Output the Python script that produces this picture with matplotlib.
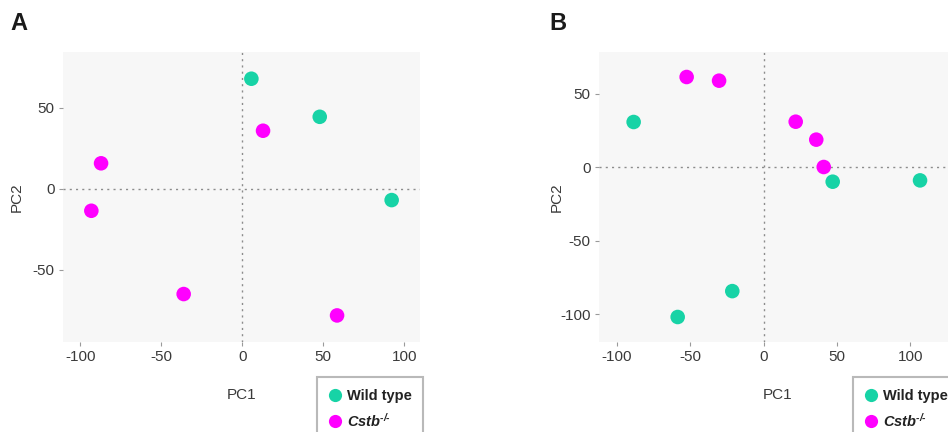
import matplotlib.pyplot as plt
from matplotlib.lines import Line2D

plt.rcParams['font.family'] = ['Liberation Sans', 'DejaVu Sans']
plt.rcParams['axes.unicode_minus'] = False
plt.rcParams['mathtext.fontset'] = 'custom'
plt.rcParams['mathtext.rm'] = 'Liberation Sans'
plt.rcParams['mathtext.bf'] = 'Liberation Sans:bold'
plt.rcParams['mathtext.bfit'] = 'Liberation Sans:italic:bold'
plt.rcParams['mathtext.it'] = 'Liberation Sans:italic'

# panel A
a_wt_pc1 = [5.6, 47.8, 92.2]
a_wt_pc2 = [67.9, 44.4, -7.0]
a_ko_pc1 = [12.8, -87.2, -93.2, -36.2, 58.5]
a_ko_pc2 = [35.8, 15.7, -13.6, -65.0, -78.2]

# panel B
b_wt_pc1 = [-88.6, -58.6, -21.4, 47.0, 106.5]
b_wt_pc2 = [30.8, -101.8, -84.2, -9.8, -8.9]
b_ko_pc1 = [-52.5, -30.4, 21.8, 35.8, 40.9]
b_ko_pc2 = [61.4, 58.9, 31.0, 18.8, 0.2]

wt_col = '#17d3a6'
ko_col = '#ff00ff'
labels = ['Wild type', '$\\mathbfit{Cstb}^{\\mathbfit{\u2010/\u2010}}$']

fig = plt.figure(figsize=(9.48, 4.32), dpi=100)

def panel(rect, wx, wy, kx, ky, xlim, ylim, yticks, letter, letter_x, leg_x, ylab_x):
    ax = fig.add_axes(rect)
    ax.set_facecolor('#f7f7f7')
    for s in ax.spines.values():
        s.set_visible(False)
    ax.axhline(0, color='#8c8c8c', ls=(0, (1.5, 3)), lw=1, zorder=1)
    ax.axvline(0, color='#8c8c8c', ls=(0, (1.5, 3)), lw=1, zorder=1)
    ax.scatter(wx, wy, s=110, color=wt_col, edgecolors='none', zorder=3)
    ax.scatter(kx, ky, s=110, color=ko_col, edgecolors='none', zorder=3)
    ax.set_xlim(xlim)
    ax.set_ylim(ylim)
    ax.set_xticks([-100, -50, 0, 50, 100])
    ax.set_yticks(yticks)
    ax.tick_params(length=3, width=0.8, color='#9a9a9a', labelcolor='#3a3a3a',
                   labelsize=11, pad=3)
    ax.set_xlabel('PC1', fontsize=11, color='#3a3a3a')
    ax.set_ylabel('PC2', fontsize=11, color='#3a3a3a')
    ax.xaxis.set_label_coords(0.5, -0.16)
    ax.yaxis.set_label_coords(ylab_x, 0.5)
    fig.text(letter_x, 1 - 12 / 432, letter, fontsize=17, fontweight='bold',
             va='top', ha='left', color='#1a1a1a')
    handles = [Line2D([], [], ls='none', marker='o', ms=9.5, color=wt_col, mec='none'),
               Line2D([], [], ls='none', marker='o', ms=9.5, color=ko_col, mec='none')]
    leg = fig.legend(handles, labels, loc='upper left',
                     bbox_to_anchor=(leg_x, 1 - 377 / 432), frameon=True,
                     fancybox=False, edgecolor='#a8a8a8', borderaxespad=0,
                     handlelength=0.8, handletextpad=0.45, borderpad=0.8,
                     labelspacing=0.6, prop={'weight': 'bold', 'size': 10.5})
    leg.get_frame().set_linewidth(1.5)
    for t in leg.get_texts():
        t.set_color('#222222')
    return ax

panel([63 / 948, 90 / 432, 357 / 948, 290 / 432],
      a_wt_pc1, a_wt_pc2, a_ko_pc1, a_ko_pc2,
      (-110.7, 109.7), (-94.6, 84.4), [-50, 0, 50], 'A', 10 / 948, 317 / 948, -0.109)
panel([599 / 948, 90 / 432, 357 / 948, 290 / 432],
      b_wt_pc1, b_wt_pc2, b_ko_pc1, b_ko_pc2,
      (-112.2, 131), (-118.8, 78.4), [-100, -50, 0, 50], 'B', 549 / 948, 853 / 948, -0.10)

fig.savefig('out.png', dpi=100)
